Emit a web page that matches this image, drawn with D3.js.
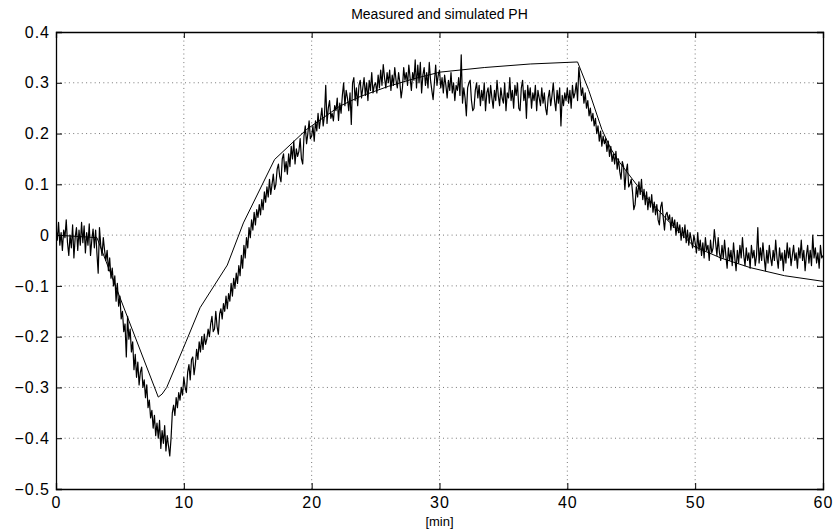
<!DOCTYPE html>
<html><head><meta charset="utf-8">
<script src="https://cdn.jsdelivr.net/npm/d3@7"></script>
<style>
html,body{margin:0;padding:0;background:#fff;}
text{font-family:"Liberation Sans",Arial,Helvetica,sans-serif;fill:#000;}
</style></head>
<body>
<svg id="chart" width="835" height="530"></svg>
<script>
const titleText = "Measured and simulated PH";
const xLabelText = "[min]";
const xTicks = [0, 10, 20, 30, 40, 50, 60];
const xTickLabels = ["0", "10", "20", "30", "40", "50", "60"];
const yTicks = [-0.5, -0.4, -0.3, -0.2, -0.1, 0, 0.1, 0.2, 0.3, 0.4];
const yTickLabels = ["\u22120.5", "\u22120.4", "\u22120.3", "\u22120.2", "\u22120.1", "0", "0.1", "0.2", "0.3", "0.4"];

// simulated PH (smooth model output)
const simTime = [0, 3.2, 8.0, 8.3, 8.66, 10.17, 11.27, 13.4, 14.66, 17.1, 19.6, 22.2, 23.8, 26, 28, 30.05, 33.5, 37.1, 40.8, 41.65, 42.7, 43.4, 44.1, 46, 48, 49.9, 52, 54.3, 57, 60];
const simPH = [0, -0.005, -0.319, -0.313, -0.30, -0.21, -0.143, -0.059, 0.024, 0.149, 0.208, 0.254, 0.273, 0.293, 0.308, 0.321, 0.33, 0.337, 0.341, 0.287, 0.208, 0.17, 0.143, 0.08, 0.025, -0.022, -0.045, -0.064, -0.08, -0.091];

// measured PH, sampled every 0.1 min from 0 to 60 min
const measuredStart = 0;
const measuredStep = 0.1;
const measuredPH = [
0.015,-0.010,0.025,-0.020,0.005,-0.030,0.010,-0.005,0.030,-0.015,
-0.040,0.000,-0.025,0.020,-0.045,-0.005,0.015,-0.030,0.010,-0.020,
0.025,-0.015,0.018,-0.035,0.005,-0.020,0.022,-0.040,-0.010,0.012,
-0.025,0.010,-0.035,-0.075,0.015,-0.020,-0.040,-0.005,-0.030,-0.050,
-0.030,-0.070,-0.045,-0.085,-0.065,-0.100,-0.080,-0.130,-0.095,-0.140,
-0.120,-0.165,-0.150,-0.190,-0.175,-0.240,-0.160,-0.205,-0.185,-0.230,
-0.210,-0.265,-0.235,-0.280,-0.250,-0.295,-0.270,-0.260,-0.300,-0.285,
-0.320,-0.295,-0.340,-0.325,-0.360,-0.345,-0.380,-0.355,-0.395,-0.370,
-0.400,-0.365,-0.420,-0.385,-0.410,-0.375,-0.425,-0.395,-0.415,-0.435,
-0.400,-0.350,-0.335,-0.355,-0.320,-0.340,-0.310,-0.325,-0.300,-0.315,
-0.280,-0.300,-0.310,-0.270,-0.255,-0.285,-0.245,-0.240,-0.275,-0.255,
-0.225,-0.245,-0.210,-0.230,-0.200,-0.225,-0.195,-0.215,-0.205,-0.185,
-0.200,-0.175,-0.160,-0.190,-0.185,-0.150,-0.180,-0.195,-0.155,-0.145,
-0.165,-0.135,-0.150,-0.120,-0.145,-0.115,-0.130,-0.095,-0.120,-0.085,
-0.105,-0.075,-0.095,-0.060,-0.080,-0.040,-0.065,-0.020,-0.045,-0.005,
-0.025,0.015,-0.005,0.030,0.010,0.045,0.020,0.050,0.035,0.060,
0.040,0.070,0.050,0.085,0.065,0.095,0.075,0.110,0.080,0.100,
0.120,0.090,0.100,0.130,0.140,0.115,0.105,0.150,0.160,0.125,
0.145,0.120,0.160,0.135,0.175,0.150,0.185,0.140,0.170,0.155,
0.165,0.190,0.150,0.140,0.195,0.215,0.180,0.200,0.225,0.190,
0.195,0.215,0.185,0.225,0.205,0.240,0.210,0.230,0.250,0.215,
0.235,0.295,0.220,0.250,0.265,0.230,0.240,0.225,0.255,0.245,
0.270,0.226,0.260,0.240,0.275,0.300,0.255,0.285,0.270,0.245,
0.280,0.218,0.300,0.310,0.265,0.290,0.255,0.295,0.305,0.270,
0.290,0.310,0.275,0.300,0.265,0.305,0.285,0.320,0.280,0.295,
0.300,0.280,0.315,0.290,0.325,0.295,0.336,0.310,0.290,0.320,
0.300,0.325,0.285,0.315,0.295,0.330,0.305,0.290,0.320,0.300,
0.270,0.290,0.330,0.305,0.320,0.295,0.335,0.310,0.285,0.320,
0.305,0.345,0.290,0.335,0.300,0.340,0.280,0.315,0.330,0.295,
0.320,0.290,0.340,0.305,0.285,0.267,0.300,0.335,0.295,0.315,
0.325,0.290,0.310,0.280,0.315,0.295,0.270,0.305,0.285,0.320,
0.280,0.300,0.265,0.295,0.285,0.310,0.275,0.355,0.260,0.290,
0.270,0.235,0.290,0.300,0.305,0.265,0.245,0.250,0.285,0.300,
0.270,0.295,0.255,0.285,0.265,0.300,0.245,0.280,0.290,0.260,
0.295,0.270,0.250,0.285,0.265,0.305,0.275,0.255,0.290,0.270,
0.260,0.300,0.245,0.280,0.270,0.310,0.265,0.285,0.250,0.295,
0.275,0.300,0.250,0.245,0.290,0.305,0.265,0.285,0.230,0.295,
0.270,0.290,0.250,0.280,0.265,0.295,0.245,0.285,0.270,0.255,
0.290,0.260,0.280,0.250,0.237,0.270,0.285,0.255,0.275,0.300,
0.265,0.245,0.285,0.260,0.290,0.215,0.275,0.255,0.280,0.265,
0.290,0.260,0.285,0.250,0.295,0.270,0.280,0.300,0.265,0.330,
0.305,0.275,0.290,0.260,0.280,0.250,0.265,0.235,0.250,0.225,
0.240,0.215,0.230,0.200,0.215,0.185,0.205,0.175,0.195,0.180,
0.190,0.165,0.185,0.155,0.175,0.145,0.160,0.140,0.165,0.130,
0.150,0.125,0.110,0.145,0.135,0.090,0.125,0.140,0.095,0.100,
0.110,0.085,0.050,0.060,0.095,0.075,0.105,0.080,0.110,0.070,
0.090,0.060,0.085,0.050,0.075,0.055,0.080,0.045,0.065,0.040,
0.060,0.030,0.020,0.055,0.065,0.035,0.010,0.040,0.045,0.030,
0.040,0.010,0.035,0.015,0.030,0.000,0.025,0.005,0.020,-0.010,
0.015,-0.005,0.020,-0.015,0.010,-0.020,0.005,-0.010,-0.025,0.000,
-0.015,-0.035,0.005,-0.030,-0.010,-0.040,-0.015,-0.045,-0.005,-0.030,
-0.020,-0.050,-0.010,-0.035,-0.025,0.011,-0.015,-0.040,-0.005,-0.035,
-0.050,-0.020,-0.045,-0.010,-0.040,-0.065,-0.025,-0.050,-0.030,-0.060,
-0.015,-0.045,-0.070,-0.030,-0.055,-0.020,-0.045,-0.005,-0.040,-0.060,
-0.025,-0.050,-0.035,-0.065,-0.020,-0.045,-0.030,-0.060,-0.040,0.015,
-0.055,-0.025,-0.050,-0.015,-0.045,-0.070,-0.030,-0.055,-0.020,-0.045,
-0.060,-0.030,-0.050,-0.010,-0.045,-0.065,-0.025,-0.050,-0.035,-0.070,
-0.030,-0.055,-0.015,-0.045,-0.025,-0.060,-0.040,-0.020,-0.050,-0.035,
-0.065,-0.025,-0.045,-0.010,-0.050,-0.030,-0.070,-0.040,-0.020,-0.055,
-0.030,-0.060,0.000,-0.045,-0.025,-0.055,-0.035,-0.065,-0.020,-0.045,
-0.040
];

const svg = d3.select("#chart");
const mLeft = 56, mRight = 823, mTop = 32, mBottom = 489;
const x = d3.scaleLinear().domain([0, 60]).range([mLeft, mRight]);
const y = d3.scaleLinear().domain([-0.5, 0.4]).range([mBottom, mTop]);

// grid
const grid = svg.append("g");
grid.selectAll("line.gx").data(xTicks.slice(1, -1)).join("line")
  .attr("x1", d => x(d)).attr("x2", d => x(d)).attr("y1", mTop).attr("y2", mBottom)
  .attr("stroke", "#555").attr("stroke-width", 0.8).attr("stroke-dasharray", "1,3.3");
grid.selectAll("line.gy").data(yTicks.slice(1, -1)).join("line")
  .attr("x1", mLeft).attr("x2", mRight).attr("y1", d => y(d)).attr("y2", d => y(d))
  .attr("stroke", "#555").attr("stroke-width", 0.8).attr("stroke-dasharray", "1,3.3");

svg.append("clipPath").attr("id", "clip").append("rect")
  .attr("x", mLeft).attr("y", mTop).attr("width", mRight - mLeft).attr("height", mBottom - mTop);

// data lines
const measured = measuredPH.map((v, i) => [measuredStart + i * measuredStep, v]);
const line = d3.line().x(d => x(d[0])).y(d => y(d[1]));
const plot = svg.append("g").attr("clip-path", "url(#clip)");
plot.append("path").datum(measured).attr("d", line)
  .attr("fill", "none").attr("stroke", "#000").attr("stroke-width", 1.2).attr("stroke-linejoin", "round");
plot.append("path").datum(simTime.map((t, i) => [t, simPH[i]])).attr("d", line)
  .attr("fill", "none").attr("stroke", "#000").attr("stroke-width", 1);

// axes (MATLAB-style inward ticks, box)
const tickLen = 6;
const axB = svg.append("g").attr("transform", `translate(0,${mBottom})`)
  .call(d3.axisBottom(x).tickValues(xTicks).tickSize(-tickLen).tickPadding(8).tickFormat((d, i) => xTickLabels[i]));
const axT = svg.append("g").attr("transform", `translate(0,${mTop})`)
  .call(d3.axisTop(x).tickValues(xTicks).tickSize(-tickLen).tickFormat(""));
const axL = svg.append("g").attr("transform", `translate(${mLeft},0)`)
  .call(d3.axisLeft(y).tickValues(yTicks).tickSize(-tickLen).tickPadding(6).tickFormat((d, i) => yTickLabels[i]));
const axR = svg.append("g").attr("transform", `translate(${mRight},0)`)
  .call(d3.axisRight(y).tickValues(yTicks).tickSize(-tickLen).tickFormat(""));
[axB, axT, axL, axR].forEach(a => {
  a.select(".domain").attr("stroke", "#000").attr("stroke-width", 1.3);
  a.selectAll(".tick line").attr("stroke", "#000").attr("stroke-width", 1);
});
[axB, axL].forEach(a => a.selectAll(".tick text")
  .attr("font-size", 16).attr("letter-spacing", 1)
  .attr("font-family", "Liberation Sans, Arial, sans-serif"));

svg.append("text").attr("x", (mLeft + mRight) / 2).attr("y", 19).attr("text-anchor", "middle")
  .attr("font-size", 14).text(titleText);
svg.append("text").attr("x", (mLeft + mRight) / 2).attr("y", 526).attr("text-anchor", "middle")
  .attr("font-size", 13).text(xLabelText);
</script>
</body></html>
